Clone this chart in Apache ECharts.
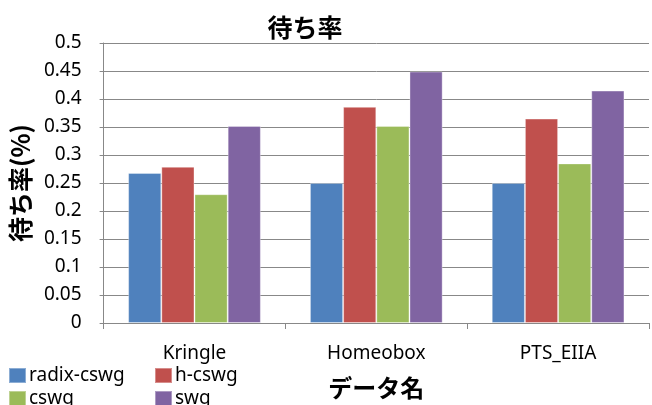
<!DOCTYPE html>
<html>
<head>
<meta charset="utf-8">
<script src="https://cdn.jsdelivr.net/npm/echarts@6/dist/echarts.min.js"></script>
<style>
  html, body { margin: 0; padding: 0; background: #fff; }
  #main { width: 652px; height: 405px; }
</style>
</head>
<body>
<div id="main"></div>
<script>
// データ
var categories = ["Kringle", "Homeobox", "PTS_EIIA"];
var radixCswg = [0.268, 0.25, 0.25];
var hCswg = [0.279, 0.386, 0.365];
var cswg = [0.23, 0.352, 0.285];
var swg = [0.352, 0.449, 0.415];
var seriesNames = ["radix-cswg", "h-cswg", "cswg", "swg"];
var colors = ["#4F81BD", "#C0504D", "#9BBB59", "#8064A2"];

var font = "'Noto Sans', 'Noto Sans CJK JP', sans-serif";
var jpFont = "'Noto Sans CJK JP', sans-serif";

var chartDom = document.getElementById("main");
var myChart = echarts.init(chartDom);
var option;

var legendPos = [
  { left: 8, top: 366 },
  { left: 154, top: 366 },
  { left: 8, top: 389 },
  { left: 154, top: 389 }
];

option = {
  animation: false,
  textStyle: { fontFamily: font },
  title: {
    text: "待ち率",
    left: 300,
    textAlign: "center",
    top: 10,
    textStyle: { fontSize: 25, fontWeight: "bold", color: "#000", fontFamily: jpFont }
  },
  legend: seriesNames.map(function (n, i) {
    return {
      data: [n],
      left: legendPos[i].left,
      top: legendPos[i].top,
      icon: "rect",
      itemWidth: 17,
      itemHeight: 15,
      itemGap: 4,
      padding: 0,
      textStyle: { fontSize: 19, color: "#000", fontFamily: font, padding: [0, 0, 0, -2] }
    };
  }),
  grid: { left: 103, width: 546, top: 43, height: 280, containLabel: false },
  xAxis: {
    type: "category",
    data: categories,
    name: "データ名",
    nameLocation: "middle",
    nameGap: 53,
    nameTextStyle: { fontSize: 24, fontWeight: "bold", color: "#000", fontFamily: jpFont },
    axisLine: { lineStyle: { color: "#888", width: 1 } },
    axisTick: { show: true, length: 6, lineStyle: { color: "#888" } },
    axisLabel: { fontSize: 19, color: "#000", margin: 21, fontFamily: font }
  },
  yAxis: {
    type: "value",
    min: 0,
    max: 0.5,
    interval: 0.05,
    name: "待ち率(%)",
    nameLocation: "middle",
    nameRotate: 90,
    nameGap: 70,
    nameTextStyle: { fontSize: 25, fontWeight: "bold", color: "#000", fontFamily: jpFont },
    axisLine: { show: true, lineStyle: { color: "#888", width: 1 } },
    axisTick: { show: true, length: 4, lineStyle: { color: "#888" } },
    splitLine: { lineStyle: { color: "#888", width: 1 } },
    axisLabel: {
      fontSize: 19,
      color: "#000",
      margin: 22,
      fontFamily: font,
      formatter: function (v) { return String(+v.toFixed(2)); }
    }
  },
  series: [radixCswg, hCswg, cswg, swg].map(function (d, i) {
    return {
      name: seriesNames[i],
      type: "bar",
      data: d,
      barGap: "0%",
      barCategoryGap: "27%",
      itemStyle: { color: colors[i], borderColor: "rgba(255,255,255,0.35)", borderWidth: 1 }
    };
  })
};

option && myChart.setOption(option);
</script>
</body>
</html>
